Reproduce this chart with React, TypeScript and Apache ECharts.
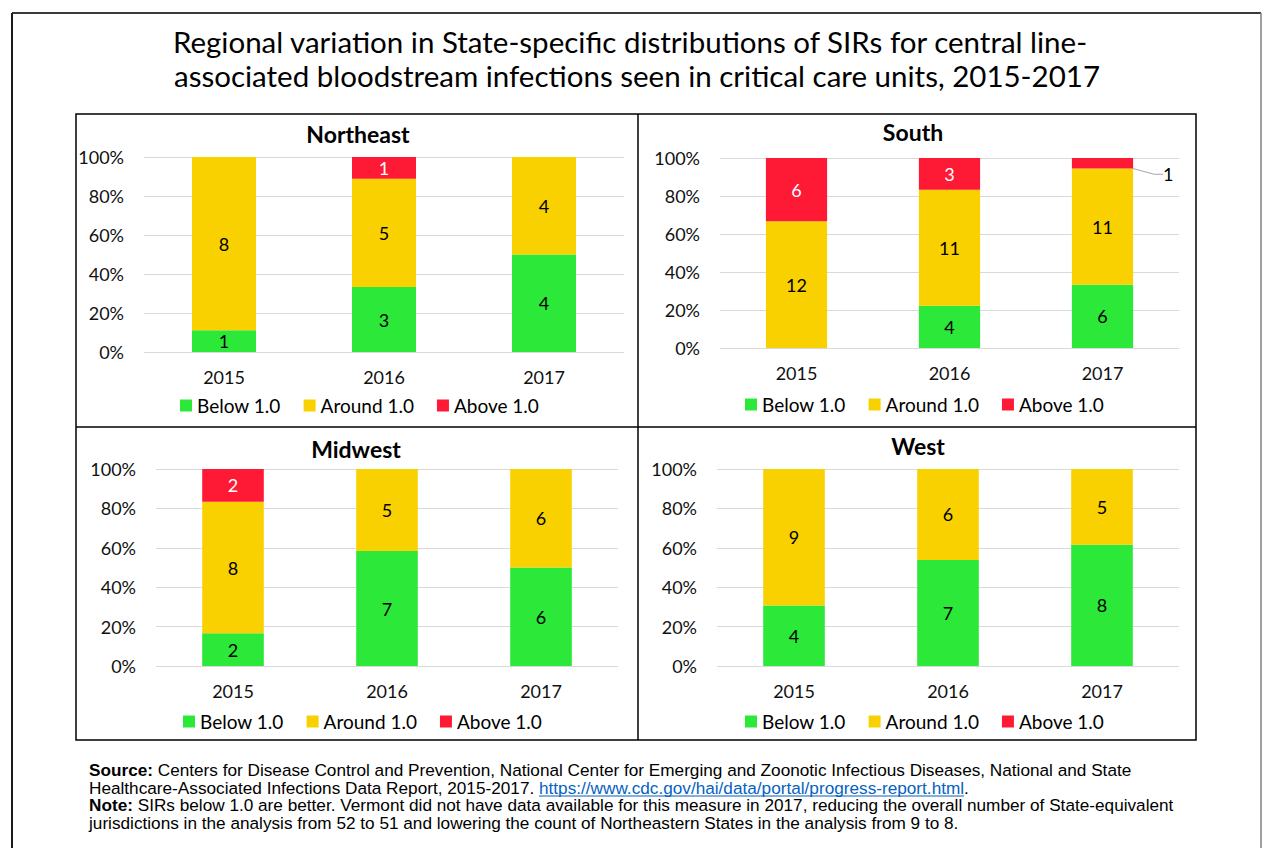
import React, { useEffect, useRef } from "react";
import * as echarts from "echarts";

const years = ["2015", "2016", "2017"];
const seriesNames = ["Below 1.0", "Around 1.0", "Above 1.0"];
const seriesColors = ["#2BE839", "#F9D100", "#FE1934"];

const northeastBelow = [1, 3, 4];
const northeastAround = [8, 5, 4];
const northeastAbove = [0, 1, 0];
const southBelow = [0, 4, 6];
const southAround = [12, 11, 11];
const southAbove = [6, 3, 1];
const midwestBelow = [2, 7, 6];
const midwestAround = [8, 5, 6];
const midwestAbove = [2, 0, 0];
const westBelow = [4, 7, 8];
const westAround = [9, 6, 5];
const westAbove = [0, 0, 0];

const mainTitleLine1 = "Regional variation in State-specific distributions of SIRs for central line-";
const mainTitleLine2 = "associated bloodstream infections seen in critical care units, 2015-2017";

const sourceLine1 =
  " Centers for Disease Control and Prevention, National Center for Emerging and Zoonotic Infectious Diseases, National and State";
const sourceLine2 = "Healthcare-Associated Infections Data Report, 2015-2017. ";
const sourceLink = "https://www.cdc.gov/hai/data/portal/progress-report.html";
const noteLine1 =
  " SIRs below 1.0 are better. Vermont did not have data available for this measure in 2017, reducing the overall number of State-equivalent";
const noteLine2 =
  "jurisdictions in the analysis from 52 to 51 and lowering the count of Northeastern States in the analysis from 9 to 8.";

const panels = [
  {
    name: "Northeast",
    counts: [northeastBelow, northeastAround, northeastAbove],
    grid: { left: 144, top: 157, width: 480, height: 195 },
    titleX: 358,
    titleY: 134,
    legendLeft: 180,
    legendTop: 396,
  },
  {
    name: "South",
    counts: [southBelow, southAround, southAbove],
    grid: { left: 720, top: 158, width: 459, height: 190 },
    titleX: 913,
    titleY: 132,
    legendLeft: 745,
    legendTop: 395,
  },
  {
    name: "Midwest",
    counts: [midwestBelow, midwestAround, midwestAbove],
    grid: { left: 156, top: 469, width: 462, height: 197 },
    titleX: 356,
    titleY: 449,
    legendLeft: 183,
    legendTop: 712,
  },
  {
    name: "West",
    counts: [westBelow, westAround, westAbove],
    grid: { left: 717, top: 469, width: 462, height: 197 },
    titleX: 918,
    titleY: 446,
    legendLeft: 745,
    legendTop: 712,
  },
];

const legendWidths = [82, 93, 84];
const CAL = "Lato, 'Open Sans', sans-serif";
const FOOT_FONT = "'Liberation Sans', Arial, sans-serif";
const FOOT_SIZE = 17.2;

function measure(text: string, font: string): number {
  const c = document.createElement("canvas");
  const ctx = c.getContext("2d");
  if (!ctx) return text.length * 8;
  ctx.font = font;
  return ctx.measureText(text).width;
}

export default function App() {
  const ref = useRef<HTMLDivElement>(null);
  useEffect(() => {
    if (!ref.current) return;
    const chart = echarts.init(ref.current, undefined, { renderer: "svg" });

    const grids: any[] = [];
    const xAxes: any[] = [];
    const yAxes: any[] = [];
    const series: any[] = [];
    const legends: any[] = [];
    const graphics: any[] = [];

    panels.forEach((p, i) => {
      grids.push({ ...p.grid, containLabel: false });
      xAxes.push({
        type: "category",
        gridIndex: i,
        data: years,
        axisLine: { show: false },
        axisTick: { show: false },
        axisLabel: { margin: 16, fontFamily: CAL, fontSize: 18, color: "#111111" },
      });
      yAxes.push({
        type: "value",
        gridIndex: i,
        min: 0,
        max: 100,
        interval: 20,
        axisLine: { show: false },
        axisTick: { show: false },
        axisLabel: {
          formatter: "{value}%",
          margin: 20,
          fontFamily: CAL,
          fontSize: 18,
          color: "#111111",
        },
        splitLine: { lineStyle: { color: "#d9d9d9", width: 1.2 } },
      });
      const totals = years.map((_, j) => p.counts.reduce((s, arr) => s + arr[j], 0));
      p.counts.forEach((arr, k) => {
        const isLeader = p.name === "South" && k === 2;
        series.push({
          type: "bar",
          name: seriesNames[k],
          xAxisIndex: i,
          yAxisIndex: i,
          stack: "stack" + i,
          barWidth: "40%",
          itemStyle: { color: seriesColors[k] },
          label: {
            show: true,
            position: "inside",
            color: k === 2 ? "#ffffff" : "#000000",
            fontFamily: CAL,
            fontSize: 18,
            formatter: (prm: any) => (prm.data.count ? String(prm.data.count) : ""),
          },
          labelLayout: isLeader
            ? (prm: any) => (prm.dataIndex === 2 ? { dx: 21, dy: 11 } : {})
            : undefined,
          data: arr.map((c, j) => {
            const item: any = { value: (c / totals[j]) * 100, count: c };
            if (isLeader && j === 2) {
              item.label = { position: "right", distance: 5, color: "#000000", padding: [0, 0, 0, 4] };
              item.labelLine = { show: true, length2: 9, lineStyle: { color: "#a6a6a6", width: 1 } };
            }
            return item;
          }),
        });
      });
      legends.push({
        left: p.legendLeft,
        top: p.legendTop,
        padding: 0,
        orient: "horizontal",
        icon: "rect",
        itemWidth: 12,
        itemHeight: 12,
        itemGap: 23,
        selectedMode: false,
        textStyle: { fontFamily: CAL, fontSize: 19, color: "#000000" },
        data: seriesNames.map((n, k) => ({ name: n, textStyle: { width: legendWidths[k] } })),
      });
      graphics.push({
        type: "text",
        x: p.titleX,
        y: p.titleY,
        style: {
          text: p.name,
          textAlign: "center",
          textVerticalAlign: "middle",
          fontFamily: CAL,
          fontWeight: "bold",
          fontSize: 23,
          fill: "#000000",
        },
      });
    });

    // borders
    graphics.push(
      { type: "line", shape: { x1: 12, y1: 13, x2: 1261, y2: 13 }, style: { stroke: "#3a3a3a", lineWidth: 2 } },
      { type: "line", shape: { x1: 12, y1: 13, x2: 12, y2: 848 }, style: { stroke: "#1a1a1a", lineWidth: 2 } },
      { type: "line", shape: { x1: 1261, y1: 13, x2: 1261, y2: 848 }, style: { stroke: "#808080", lineWidth: 1.5 } },
      {
        type: "rect",
        shape: { x: 76, y: 114, width: 1120, height: 626 },
        style: { fill: "none", stroke: "#000000", lineWidth: 1.5 },
      },
      { type: "line", shape: { x1: 638, y1: 114, x2: 638, y2: 740 }, style: { stroke: "#000000", lineWidth: 1.5 } },
      { type: "line", shape: { x1: 76, y1: 427, x2: 1196, y2: 427 }, style: { stroke: "#000000", lineWidth: 1.5 } }
    );

    // main title (two separate lines)
    const titleStyle = {
      textAlign: "center",
      textVerticalAlign: "middle",
      fontFamily: CAL,
      fontSize: 29.5,
      fill: "#000000",
    };
    graphics.push(
      { type: "text", x: 630, y: 41, style: { ...titleStyle, text: mainTitleLine1 } },
      { type: "text", x: 637, y: 75, style: { ...titleStyle, text: mainTitleLine2 } }
    );

    // footnote
    const fx = 89;
    const footFont = `${FOOT_SIZE}px ${FOOT_FONT}`;
    const rich = {
      b: { fontFamily: FOOT_FONT, fontSize: FOOT_SIZE, fontWeight: "bold", fill: "#000" },
      n: { fontFamily: FOOT_FONT, fontSize: FOOT_SIZE, fill: "#000" },
    };
    graphics.push({
      type: "text",
      x: fx,
      y: 770,
      style: { text: "{b|Source:}{n|" + sourceLine1 + "}", rich, textVerticalAlign: "middle", fontFamily: FOOT_FONT, fontSize: FOOT_SIZE },
    });
    const prefixW = measure(sourceLine2, footFont);
    const linkW = measure(sourceLink, footFont);
    graphics.push(
      {
        type: "text",
        x: fx,
        y: 787.5,
        style: { text: sourceLine2, textVerticalAlign: "middle", fontFamily: FOOT_FONT, fontSize: FOOT_SIZE, fill: "#000" },
      },
      {
        type: "text",
        x: fx + prefixW,
        y: 787.5,
        style: { text: sourceLink, textVerticalAlign: "middle", fontFamily: FOOT_FONT, fontSize: FOOT_SIZE, fill: "#0563C1" },
      },
      {
        type: "line",
        shape: { x1: fx + prefixW, y1: 796, x2: fx + prefixW + linkW, y2: 796 },
        style: { stroke: "#0563C1", lineWidth: 1 },
      },
      {
        type: "text",
        x: fx + prefixW + linkW,
        y: 787.5,
        style: { text: ".", textVerticalAlign: "middle", fontFamily: FOOT_FONT, fontSize: FOOT_SIZE, fill: "#000" },
      },
      {
        type: "text",
        x: fx,
        y: 805,
        style: { text: "{b|Note:}{n|" + noteLine1 + "}", rich, textVerticalAlign: "middle", fontFamily: FOOT_FONT, fontSize: FOOT_SIZE },
      },
      {
        type: "text",
        x: fx,
        y: 822.5,
        style: { text: noteLine2, textVerticalAlign: "middle", fontFamily: FOOT_FONT, fontSize: FOOT_SIZE, fill: "#000" },
      }
    );

    chart.setOption({
      animation: false,
      backgroundColor: "#ffffff",
      grid: grids,
      xAxis: xAxes,
      yAxis: yAxes,
      legend: legends,
      series,
      graphic: graphics,
    });
    return () => chart.dispose();
  }, []);

  return (
    <div
      ref={ref}
      style={{ position: "absolute", left: 0, top: 0, width: 1262, height: 848, background: "#fff" }}
    />
  );
}
